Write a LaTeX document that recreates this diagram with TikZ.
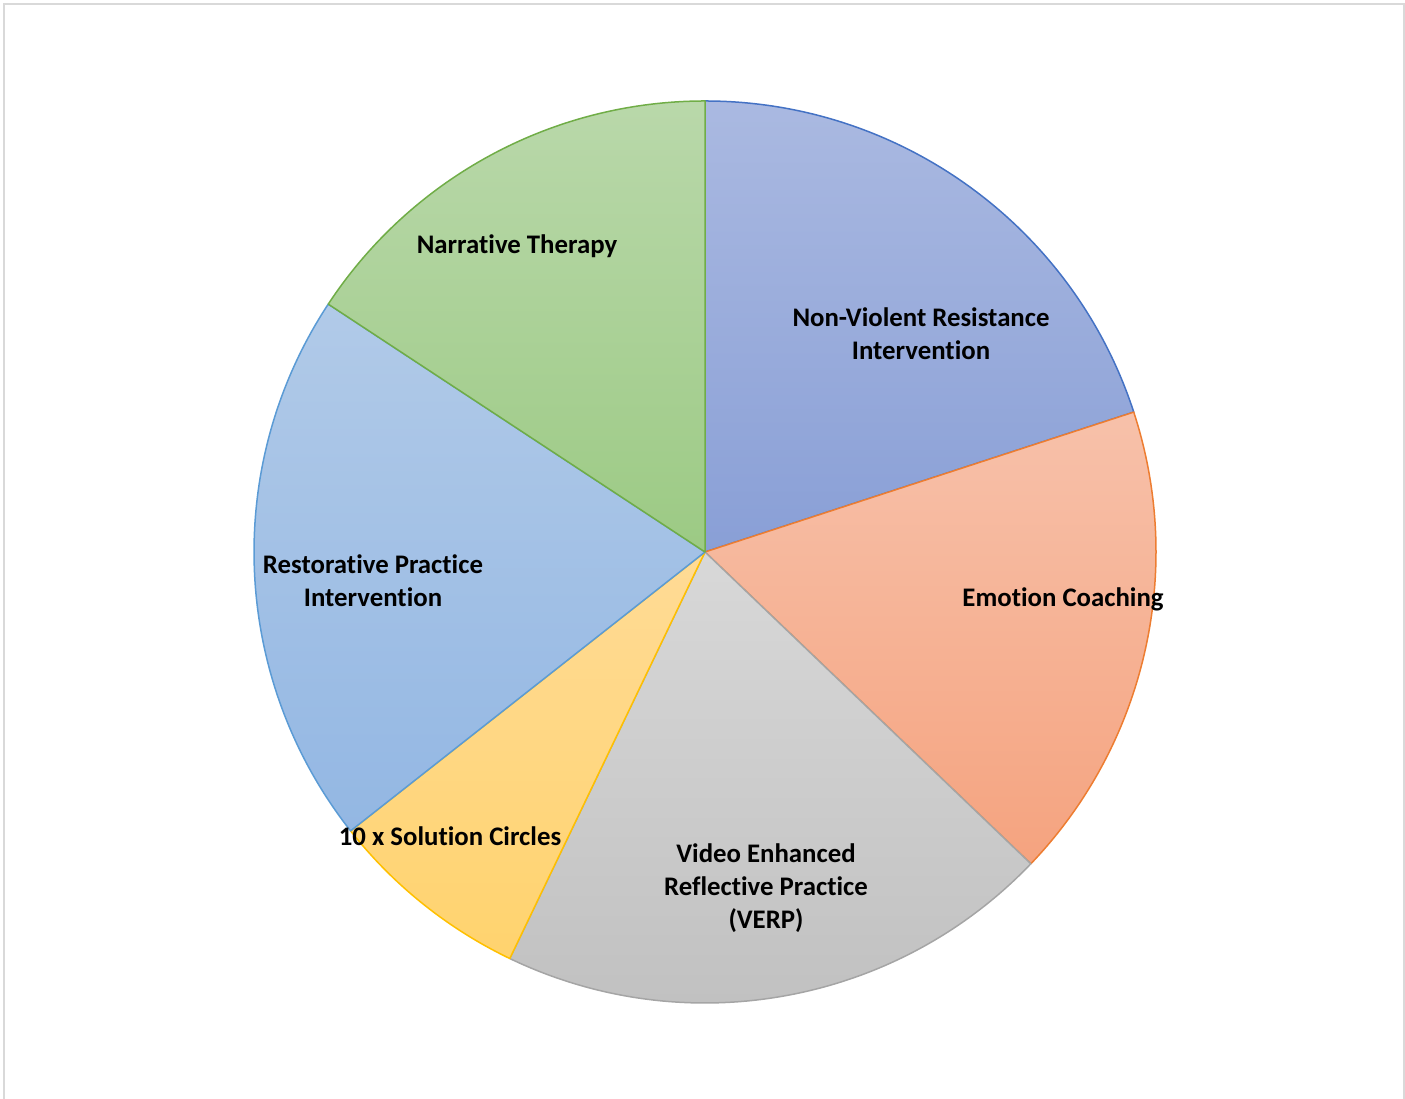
\documentclass[tikz,border=0pt]{standalone}
\usepackage{fontspec}
\setmainfont{Carlito}[RawFeature={-liga;-clig;-dlig}]
\usetikzlibrary{positioning}

\definecolor{nvrline}{HTML}{4472C4}
\definecolor{emoline}{HTML}{ED7D31}
\definecolor{verpline}{HTML}{A5A5A5}
\definecolor{solline}{HTML}{FFC000}
\definecolor{restline}{HTML}{5B9BD5}
\definecolor{narrline}{HTML}{70AD47}
\definecolor{frameline}{HTML}{D9D9D9}

\tikzset{
  slice/.style={line width=1.5pt, line join=round},
  lbl/.style={font=\fontsize{26.8}{33}\selectfont\bfseries, align=center, inner sep=0pt}
}

\begin{document}
\begin{tikzpicture}[x=1pt, y=1pt]
\useasboundingbox (0,0) rectangle (1405,1099);
\draw[frameline, line width=1.5pt] (4,-5) rectangle (1404,1095);
\coordinate (c) at (705,547);
% slices, clockwise from the top
\draw[slice, draw=nvrline, top color={rgb,255:red,170;green,185;blue,225}, bottom color={rgb,255:red,137;green,159;blue,214}]
  (c) -- +(90:451) arc[start angle=90, end angle=18.07, radius=451] -- cycle;
\draw[slice, draw=emoline, top color={rgb,255:red,247;green,193;blue,170}, bottom color={rgb,255:red,245;green,163;blue,127}]
  (c) -- +(18.07:451) arc[start angle=18.07, end angle=-43.74, radius=451] -- cycle;
\draw[slice, draw=verpline, top color={rgb,255:red,216;green,216;blue,216}, bottom color={rgb,255:red,191;green,191;blue,191}]
  (c) -- +(-43.74:451) arc[start angle=-43.74, end angle=-115.65, radius=451] -- cycle;
\draw[slice, draw=solline, top color={rgb,255:red,255;green,219;blue,150}, bottom color={rgb,255:red,255;green,211;blue,110}]
  (c) -- +(-115.65:451) arc[start angle=-115.65, end angle=-141.8, radius=451] -- cycle;
\draw[slice, draw=restline, top color={rgb,255:red,177;green,202;blue,232}, bottom color={rgb,255:red,147;green,183;blue,227}]
  (c) -- +(-141.8:451) arc[start angle=-141.8, end angle=-213.34, radius=451] -- cycle;
\draw[slice, draw=narrline, top color={rgb,255:red,185;green,216;blue,170}, bottom color={rgb,255:red,156;green,202;blue,132}]
  (c) -- +(146.66:451) arc[start angle=146.66, end angle=90, radius=451] -- cycle;
% labels
\node[lbl] (nvr) at (921,765) {Non-Violent Resistance\\Intervention};
\node[lbl] (emo) at (1063,500) {Emotion Coaching};
\node[lbl] (verp) at (766,211) {Video Enhanced\\Reflective Practice\\(VERP)};
\node[lbl] (sol) at (450,263) {10 x Solution Circles};
\node[lbl] (rest) at (373,518) {Restorative Practice\\Intervention};
\node[lbl] (narr) at (517,853) {Narrative Therapy};
\end{tikzpicture}
\end{document}
